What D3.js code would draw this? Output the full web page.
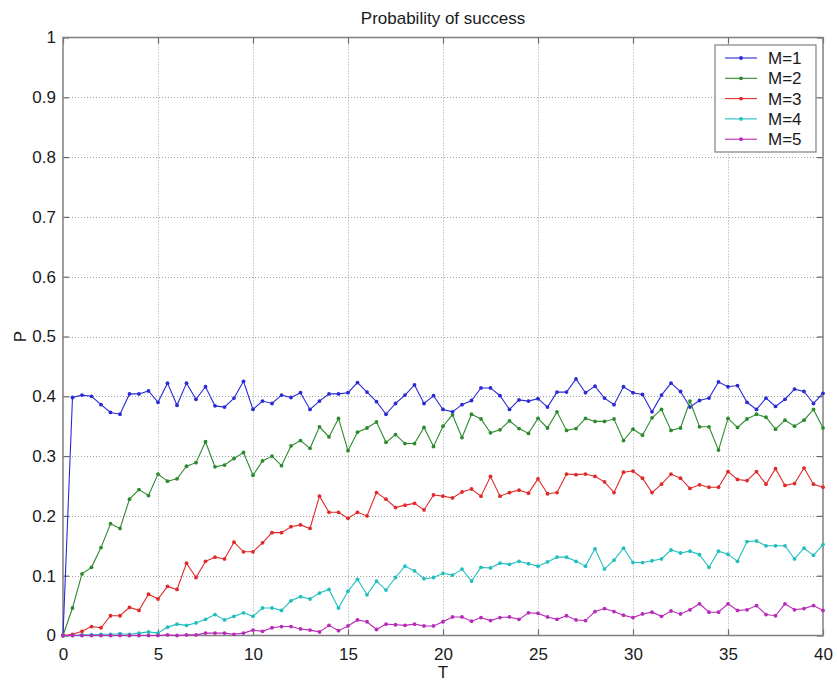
<!DOCTYPE html>
<html>
<head>
<meta charset="utf-8">
<script src="https://cdn.jsdelivr.net/npm/d3@7"></script>
<style>
  body { margin: 0; background: #fff; }
  svg { display: block; font-family: "Liberation Sans", Arial, sans-serif; }
</style>
</head>
<body>
<div id="chart"></div>
<script>
// T runs 0..40 in steps of 0.5
const T = d3.range(0, 40.01, 0.5);

const seriesNames = ["M=1", "M=2", "M=3", "M=4", "M=5"];
const seriesColors = ["#2b2bd6", "#2e8a2e", "#e02a2a", "#22bfbf", "#b82ab8"];

const m1 = [
  0, 0.398, 0.402, 0.400, 0.386, 0.373, 0.370, 0.404, 0.404, 0.409,
  0.390, 0.422, 0.385, 0.422, 0.395, 0.416, 0.384, 0.382, 0.397, 0.425,
  0.378, 0.392, 0.388, 0.402, 0.398, 0.406, 0.378, 0.392, 0.404, 0.404,
  0.406, 0.423, 0.407, 0.391, 0.370, 0.388, 0.402, 0.419, 0.388, 0.401,
  0.378, 0.374, 0.386, 0.393, 0.414, 0.414, 0.401, 0.378, 0.394, 0.392,
  0.396, 0.382, 0.407, 0.407, 0.429, 0.406, 0.417, 0.397, 0.386, 0.416,
  0.406, 0.403, 0.374, 0.402, 0.422, 0.408, 0.382, 0.393, 0.397, 0.424,
  0.416, 0.418, 0.390, 0.378, 0.397, 0.383, 0.395, 0.412, 0.408, 0.388,
  0.405
];
const m2 = [
  0, 0.046, 0.103, 0.114, 0.147, 0.187, 0.179, 0.228, 0.244, 0.234,
  0.270, 0.258, 0.262, 0.283, 0.289, 0.324, 0.282, 0.285, 0.296, 0.306,
  0.268, 0.292, 0.300, 0.284, 0.317, 0.326, 0.313, 0.349, 0.332, 0.363,
  0.309, 0.340, 0.347, 0.357, 0.323, 0.336, 0.321, 0.321, 0.348, 0.316,
  0.350, 0.369, 0.331, 0.370, 0.362, 0.339, 0.344, 0.359, 0.346, 0.338,
  0.363, 0.347, 0.374, 0.343, 0.346, 0.363, 0.358, 0.358, 0.362, 0.326,
  0.345, 0.335, 0.364, 0.378, 0.343, 0.347, 0.392, 0.349, 0.349, 0.310,
  0.363, 0.348, 0.362, 0.370, 0.365, 0.345, 0.360, 0.350, 0.360, 0.378,
  0.347
];
const m3 = [
  0, 0.002, 0.007, 0.015, 0.013, 0.033, 0.033, 0.047, 0.042, 0.069,
  0.061, 0.082, 0.077, 0.121, 0.097, 0.124, 0.131, 0.128, 0.156, 0.140,
  0.140, 0.155, 0.172, 0.172, 0.182, 0.185, 0.179, 0.233, 0.206, 0.206,
  0.196, 0.206, 0.200, 0.239, 0.228, 0.214, 0.218, 0.221, 0.210, 0.235,
  0.233, 0.230, 0.240, 0.245, 0.233, 0.266, 0.233, 0.239, 0.243, 0.238,
  0.262, 0.237, 0.239, 0.270, 0.269, 0.270, 0.266, 0.257, 0.239, 0.273,
  0.275, 0.263, 0.239, 0.253, 0.270, 0.263, 0.246, 0.252, 0.248, 0.248,
  0.274, 0.261, 0.259, 0.274, 0.253, 0.279, 0.251, 0.254, 0.280, 0.253,
  0.248
];
const m4 = [
  0, 0, 0.001, 0.001, 0.002, 0.002, 0.003, 0.002, 0.004, 0.006,
  0.004, 0.014, 0.019, 0.017, 0.021, 0.027, 0.035, 0.026, 0.032, 0.038,
  0.032, 0.046, 0.046, 0.042, 0.058, 0.065, 0.061, 0.071, 0.077, 0.046,
  0.074, 0.094, 0.068, 0.091, 0.076, 0.097, 0.116, 0.108, 0.095, 0.097,
  0.104, 0.101, 0.111, 0.091, 0.114, 0.113, 0.121, 0.119, 0.124, 0.120,
  0.116, 0.123, 0.131, 0.131, 0.124, 0.116, 0.145, 0.111, 0.126, 0.146,
  0.122, 0.122, 0.125, 0.128, 0.143, 0.138, 0.141, 0.135, 0.114, 0.141,
  0.136, 0.124, 0.157, 0.158, 0.150, 0.150, 0.150, 0.128, 0.146, 0.134,
  0.152
];
const m5 = [
  0, 0, 0, 0, 0, 0, 0, 0, 0, 0,
  0, 0.001, 0, 0.001, 0.001, 0.004, 0.004, 0.004, 0.002, 0.004,
  0.009, 0.007, 0.013, 0.015, 0.015, 0.011, 0.009, 0.006, 0.017, 0.008,
  0.016, 0.026, 0.023, 0.010, 0.019, 0.018, 0.017, 0.019, 0.016, 0.016,
  0.023, 0.031, 0.031, 0.024, 0.030, 0.025, 0.030, 0.031, 0.027, 0.038,
  0.037, 0.031, 0.027, 0.033, 0.026, 0.025, 0.040, 0.045, 0.040, 0.034,
  0.030, 0.036, 0.039, 0.032, 0.041, 0.036, 0.043, 0.053, 0.039, 0.039,
  0.053, 0.042, 0.043, 0.050, 0.035, 0.033, 0.053, 0.043, 0.045, 0.050,
  0.042
];

const xTicks = [0, 5, 10, 15, 20, 25, 30, 35, 40];
const yTicks = [0, 0.1, 0.2, 0.3, 0.4, 0.5, 0.6, 0.7, 0.8, 0.9, 1];

const series = [m1, m2, m3, m4, m5].map((vals, i) => ({
  name: seriesNames[i],
  color: seriesColors[i],
  values: vals.map((v, j) => ({ t: T[j], p: v }))
}));

const width = 837,
  height = 683;
const margin = { top: 37.5, right: 14, bottom: 47.5, left: 63 };

const svg = d3.select("#chart")
  .append("svg")
  .attr("width", width)
  .attr("height", height);

const x = d3.scaleLinear()
  .domain([0, 40])
  .range([margin.left, width - margin.right]);

const y = d3.scaleLinear()
  .domain([0, 1])
  .range([height - margin.bottom, margin.top]);

const x0 = x.range()[0], x1 = x.range()[1];
const y0 = y.range()[0], y1 = y.range()[1];

// dotted grid
const grid = svg.append("g")
  .attr("stroke", "#a0a0a0")
  .attr("stroke-width", 1)
  .attr("stroke-dasharray", "1,2");

grid.selectAll("line.gx")
  .data(xTicks.slice(1, -1))
  .join("line")
  .attr("class", "gx")
  .attr("x1", d => Math.round(x(d)) + 0.5)
  .attr("x2", d => Math.round(x(d)) + 0.5)
  .attr("y1", y1)
  .attr("y2", y0);

grid.selectAll("line.gy")
  .data(yTicks.slice(1, -1))
  .join("line")
  .attr("class", "gy")
  .attr("y1", d => Math.round(y(d)) + 0.5)
  .attr("y2", d => Math.round(y(d)) + 0.5)
  .attr("x1", x0)
  .attr("x2", x1);

// axes with inward ticks, MATLAB-like
const tickColor = "#6a6a6a";

const xAxis = svg.append("g")
  .attr("transform", `translate(0,${y0})`)
  .call(d3.axisBottom(x).tickValues(xTicks).tickSizeInner(-6).tickSizeOuter(0).tickPadding(12));

const yAxis = svg.append("g")
  .attr("transform", `translate(${x0},0)`)
  .call(d3.axisLeft(y).tickValues(yTicks).tickFormat(d3.format("~g")).tickSizeInner(-6).tickSizeOuter(0).tickPadding(7));

svg.append("g")
  .attr("transform", `translate(0,${y1})`)
  .call(d3.axisTop(x).tickValues(xTicks).tickSizeInner(-6).tickSizeOuter(0).tickFormat(""));

svg.append("g")
  .attr("transform", `translate(${x1},0)`)
  .call(d3.axisRight(y).tickValues(yTicks).tickSizeInner(-6).tickSizeOuter(0).tickFormat(""));

svg.selectAll(".domain").remove();
svg.selectAll(".tick line").attr("stroke", tickColor).attr("stroke-width", 1.2);
svg.selectAll(".tick text")
  .attr("fill", "#1a1a1a")
  .style("font-size", "17px")
  .style("font-family", "\"Liberation Sans\", Arial, sans-serif");

// frame
svg.append("rect")
  .attr("x", x0)
  .attr("y", y1)
  .attr("width", x1 - x0)
  .attr("height", y0 - y1)
  .attr("fill", "none")
  .attr("stroke", "#808080")
  .attr("stroke-width", 1.5);

// lines + dot markers
const line = d3.line()
  .x(d => x(d.t))
  .y(d => y(d.p));

const lines = svg.append("g")
  .selectAll("g")
  .data(series)
  .join("g");

lines.append("path")
  .attr("fill", "none")
  .attr("stroke", d => d.color)
  .attr("stroke-width", 1.1)
  .attr("d", d => line(d.values));

lines.selectAll("circle")
  .data(d => d.values.map(v => ({ ...v, color: d.color })))
  .join("circle")
  .attr("cx", d => x(d.t))
  .attr("cy", d => y(d.p))
  .attr("r", 1.9)
  .attr("fill", d => d.color);

// title and axis labels
svg.append("text")
  .attr("x", (x0 + x1) / 2)
  .attr("y", 24)
  .attr("text-anchor", "middle")
  .style("font-size", "17px")
  .attr("fill", "#1a1a1a")
  .text("Probability of success");

svg.append("text")
  .attr("x", (x0 + x1) / 2)
  .attr("y", 678)
  .attr("text-anchor", "middle")
  .style("font-size", "17px")
  .attr("fill", "#1a1a1a")
  .text("T");

svg.append("text")
  .attr("transform", `translate(26,${(y0 + y1) / 2}) rotate(-90)`)
  .attr("text-anchor", "middle")
  .style("font-size", "17px")
  .attr("fill", "#1a1a1a")
  .text("P");

// legend
const legend = svg.append("g")
  .attr("transform", "translate(715,45)");

legend.append("rect")
  .attr("width", 101)
  .attr("height", 107)
  .attr("fill", "#fff")
  .attr("stroke", "#808080")
  .attr("stroke-width", 1.2);

const item = legend.selectAll("g")
  .data(series)
  .join("g")
  .attr("transform", (d, i) => `translate(0,${13 + i * 20.3})`);

item.append("line")
  .attr("x1", 10)
  .attr("x2", 42)
  .attr("stroke", d => d.color)
  .attr("stroke-width", 1.1);

item.append("circle")
  .attr("cx", 26)
  .attr("r", 1.9)
  .attr("fill", d => d.color);

item.append("text")
  .attr("x", 53)
  .attr("dy", "0.36em")
  .style("font-size", "17px")
  .attr("fill", "#1a1a1a")
  .text(d => d.name);
</script>
</body>
</html>
